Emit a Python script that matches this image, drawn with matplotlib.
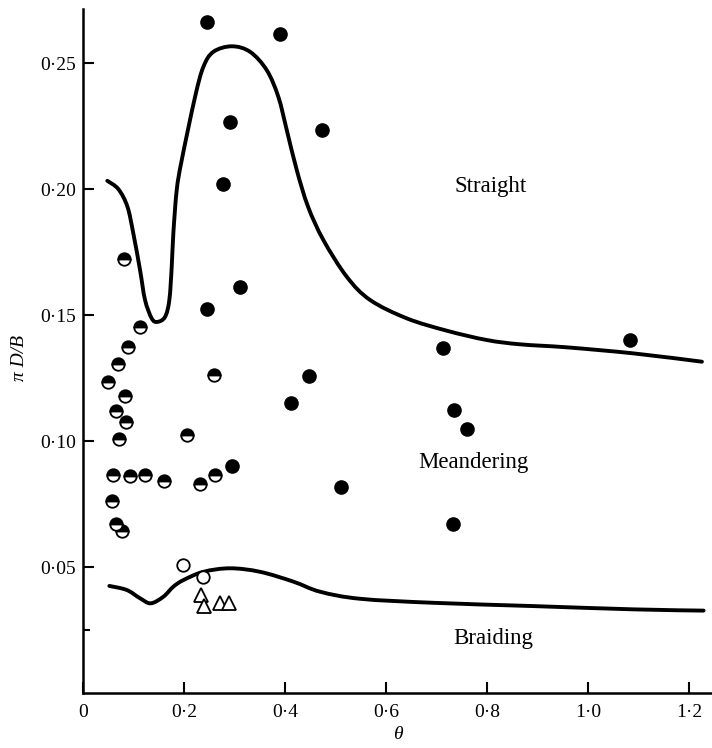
import matplotlib
matplotlib.use('Agg')
import numpy as np
from matplotlib import pyplot as plt
from matplotlib.path import Path
from matplotlib.patches import PathPatch
from matplotlib.ticker import FixedLocator

plt.rcParams['font.family'] = ['Liberation Serif', 'DejaVu Serif']

# straight / meandering channels (solid circles)
solid_theta = [0.2455, 0.3901, 0.2905, 0.2778, 0.4727, 0.3109, 0.2455, 0.7129,
               0.4475, 0.4119, 0.7347, 0.7610, 0.5103, 0.7333, 1.0832, 0.2950]
solid_y = [0.2663, 0.2615, 0.2266, 0.2019, 0.2234, 0.1612, 0.1523, 0.1369,
           0.1258, 0.1150, 0.1122, 0.1048, 0.0816, 0.0672, 0.1401, 0.0901]

# half-filled circles
half_theta = [0.0806, 0.1129, 0.0897, 0.0687, 0.0489, 0.2600, 0.0826, 0.0653,
              0.0846, 0.0719, 0.2065, 0.0600, 0.0937, 0.1222, 0.1598, 0.2317,
              0.2620, 0.0580, 0.0653, 0.0766]
half_y = [0.1723, 0.1451, 0.1372, 0.1304, 0.1235, 0.1262, 0.1179, 0.1119,
          0.1074, 0.1009, 0.1025, 0.0864, 0.0862, 0.0866, 0.0841, 0.0831,
          0.0865, 0.0762, 0.0671, 0.0643]

# open circles
open_theta = [0.1986, 0.2382]
open_y = [0.0509, 0.0462]

# triangles
tri_theta = [0.2331, 0.2396, 0.2719, 0.2897]
tri_y = [0.0389, 0.0346, 0.0358, 0.0358]

# upper boundary (straight / meandering)
upper_theta = [0.0481, 0.0700, 0.0880, 0.1000, 0.1129, 0.1228, 0.1360, 0.1471,
               0.1624, 0.1709, 0.1756, 0.1788, 0.1855, 0.1954, 0.2218,
               0.2382, 0.2580, 0.2945, 0.3307, 0.3638, 0.3867, 0.4034, 0.4232,
               0.4455, 0.4758, 0.5222, 0.5683, 0.6410, 0.7202, 0.7994, 0.8653,
               0.9578, 1.0897, 1.2251]
upper_y = [0.2033, 0.2000, 0.1930, 0.1820, 0.1679, 0.1560, 0.1487, 0.1473,
           0.1493, 0.1560, 0.1692, 0.1824, 0.1996, 0.2115, 0.2366,
           0.2485, 0.2545, 0.2567, 0.2545, 0.2472, 0.2366, 0.2234, 0.2075,
           0.1930, 0.1798, 0.1652, 0.1560, 0.1487, 0.1438, 0.1401, 0.1384,
           0.1372, 0.1348, 0.1315]

# lower boundary (meandering / braiding)
lower_theta = [0.0521, 0.0865, 0.1129, 0.1341, 0.1590, 0.1788, 0.1986, 0.2382,
               0.2911, 0.3505, 0.4164, 0.4693, 0.5485, 0.6937, 0.8917, 1.0897,
               1.2283]
lower_y = [0.0425, 0.0409, 0.0376, 0.0356, 0.0382, 0.0422, 0.0448, 0.0481,
           0.0495, 0.0481, 0.0442, 0.0402, 0.0374, 0.0358, 0.0345, 0.0332,
           0.0327]

xticks = [0, 0.2, 0.4, 0.6, 0.8, 1.0, 1.2]
xticklabels = ['0', '0·2', '0·4', '0·6', '0·8', '1·0', '1·2']
yticks = [0.05, 0.10, 0.15, 0.20, 0.25]
yticklabels = ['0·05', '0·10', '0·15', '0·20', '0·25']


def smooth_path(xs, ys, k=5.0):
    # bezier path through the read points (catmull-rom tangents)
    pts = np.column_stack([xs, np.asarray(ys) * k])
    verts = [pts[0]]
    codes = [Path.MOVETO]
    n = len(pts)
    for i in range(n - 1):
        p0 = pts[i - 1] if i > 0 else pts[i]
        p1 = pts[i]
        p2 = pts[i + 1]
        p3 = pts[i + 2] if i + 2 < n else pts[i + 1]
        verts += [p1 + (p2 - p0) / 6, p2 - (p3 - p1) / 6, p2]
        codes += [Path.CURVE4] * 3
    verts = np.array(verts)
    verts[:, 1] /= k
    return Path(verts, codes)


fig = plt.figure(figsize=(7.12, 7.48), dpi=100)
ax = fig.add_axes([83 / 712, 55 / 748, 629 / 712, 684 / 748])

for xs, ys in [(upper_theta, upper_y), (lower_theta, lower_y)]:
    ax.add_patch(PathPatch(smooth_path(xs, ys), fill=False, edgecolor='black',
                           lw=2.8, capstyle='round'))

ax.plot(solid_theta, solid_y, 'o', color='black', ms=9.5)
ax.plot(half_theta, half_y, 'o', ms=9, fillstyle='top', markerfacecolor='black',
        markerfacecoloralt='white', markeredgecolor='black', markeredgewidth=1.3)
ax.plot(open_theta, open_y, 'o', ms=9, markerfacecolor='white',
        markeredgecolor='black', markeredgewidth=1.3)
ax.plot(tri_theta, tri_y, '^', ms=10, markerfacecolor='white',
        markeredgecolor='black', markeredgewidth=1.3)

ax.text(0.806, 0.201, 'Straight', fontsize=16.5, ha='center', va='center')
ax.text(0.772, 0.0913, 'Meandering', fontsize=16.5, ha='center', va='center')
ax.text(0.812, 0.0218, 'Braiding', fontsize=16.5, ha='center', va='center')

ax.set_xlim(0, 1.245)
ax.set_ylim(0, 0.2715)
ax.set_xticks(xticks)
ax.set_xticklabels(xticklabels)
ax.set_yticks(yticks)
ax.set_yticklabels(yticklabels)
ax.yaxis.set_minor_locator(FixedLocator([0.025]))
ax.tick_params(which='both', direction='in', length=8, width=1.5,
               labelsize=14)
ax.tick_params(axis='y', pad=5)
ax.tick_params(axis='x', pad=8)
ax.tick_params(which='minor', length=5)

for side in ['top', 'right']:
    ax.spines[side].set_visible(False)
for side in ['left', 'bottom']:
    ax.spines[side].set_linewidth(1.8)

ax.set_xlabel('θ', fontsize=14, style='italic')
ax.xaxis.set_label_coords(0.5, -0.048)
ax.set_ylabel('π D/B', fontsize=14, style='italic')
ax.yaxis.set_label_coords(-0.088, 0.49)

fig.savefig('out.png', dpi=100)
